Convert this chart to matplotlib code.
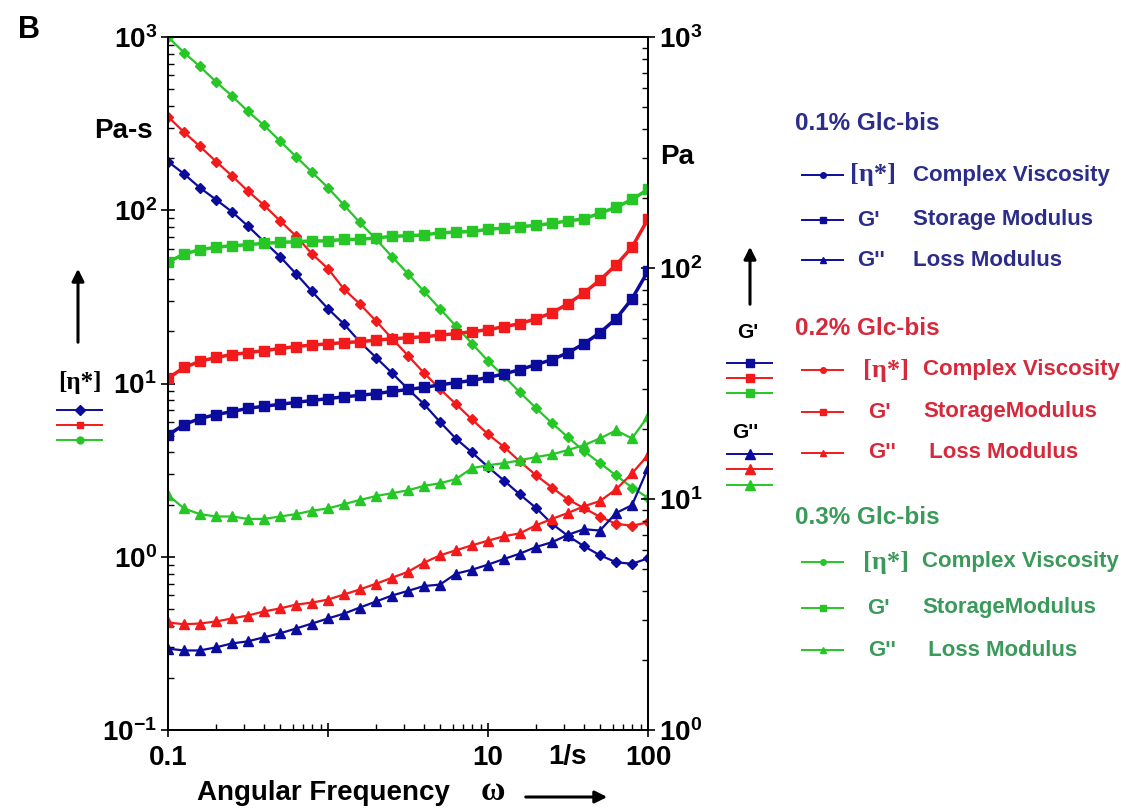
import numpy as np
import matplotlib.pyplot as plt
from matplotlib.lines import Line2D

plt.rcParams['font.family'] = ['Liberation Sans', 'DejaVu Sans']
plt.rcParams['font.weight'] = 'bold'
plt.rcParams['mathtext.fontset'] = 'custom'
plt.rcParams['mathtext.rm'] = 'Liberation Sans:bold'
plt.rcParams['mathtext.bf'] = 'Liberation Sans:bold'
plt.rcParams['mathtext.default'] = 'rm'

# frequency sweep, 1/s
omega = [0.1, 0.126, 0.158, 0.2, 0.251, 0.316, 0.398, 0.501, 0.631, 0.794,
         1.0, 1.26, 1.58, 2.0, 2.51, 3.16, 3.98, 5.01, 6.31, 7.94,
         10.0, 12.6, 15.8, 20.0, 25.1, 31.6, 39.8, 50.1, 63.1, 79.4, 100.0]

# complex viscosity, Pa-s (left axis)
visc_01 = [191, 162, 135, 115, 98, 81, 66, 54, 43, 34,
           27, 22, 17.4, 14.1, 11.5, 9.3, 7.6, 6.0, 4.8, 4.0,
           3.3, 2.75, 2.29, 1.91, 1.55, 1.32, 1.15, 1.02, 0.93, 0.91, 0.98]
visc_02 = [347, 282, 234, 191, 158, 129, 107, 87, 71, 56,
           46, 35, 28.8, 22.9, 18.2, 14.5, 11.5, 9.3, 7.6, 6.2,
           5.1, 4.3, 3.55, 2.95, 2.51, 2.14, 1.91, 1.70, 1.55, 1.51, 1.58]
visc_03 = [1000, 813, 676, 550, 457, 372, 309, 251, 204, 166,
           135, 107, 85, 68, 54, 43, 34, 27, 21.4, 17,
           13.5, 11, 8.9, 7.2, 5.9, 4.9, 4.07, 3.47, 2.95, 2.51, 2.19]

# storage modulus G', Pa (right axis)
gp_01 = [18.9, 21, 22.3, 23.2, 23.9, 24.7, 25.2, 25.7, 26.2, 26.7,
         27.2, 27.7, 28.1, 28.6, 29.2, 29.8, 30.4, 31.2, 31.9, 32.6,
         33.6, 34.8, 36.3, 38.2, 40.1, 43, 47, 52.5, 60.3, 73.5, 97]
gp_02 = [33.3, 37.1, 39.4, 41, 42.2, 43, 43.9, 44.8, 45.7, 46.4,
         47, 47.5, 48, 48.7, 49.4, 49.9, 50.4, 51.2, 52, 53,
         54.1, 55.7, 57.4, 60.3, 64, 70, 78, 88.7, 103, 123, 163]
gp_03 = [106, 115, 120, 123, 125, 126, 128, 129, 130, 131,
         131, 133, 133, 135, 137, 138, 139, 142, 143, 144,
         147, 149, 151, 153, 156, 160, 163, 173, 183, 198, 219]

# loss modulus G'', Pa (right axis)
gpp_01 = [2.25, 2.21, 2.21, 2.28, 2.37, 2.42, 2.52, 2.62, 2.75, 2.89,
          3.04, 3.19, 3.39, 3.6, 3.82, 4.0, 4.2, 4.26, 4.75, 4.94,
          5.2, 5.5, 5.8, 6.2, 6.5, 7.0, 7.4, 7.3, 8.7, 9.4, 13.6]
gpp_02 = [2.92, 2.87, 2.89, 2.95, 3.04, 3.13, 3.26, 3.36, 3.49, 3.56,
          3.67, 3.86, 4.06, 4.3, 4.56, 4.84, 5.3, 5.7, 6.0, 6.3,
          6.6, 6.9, 7.1, 7.7, 8.2, 8.7, 9.3, 9.8, 11.0, 12.9, 15.5]
gpp_03 = [10.4, 9.1, 8.6, 8.4, 8.4, 8.2, 8.2, 8.4, 8.6, 8.9,
          9.1, 9.5, 9.9, 10.3, 10.6, 10.9, 11.4, 11.7, 12.2, 13.6,
          14, 14.3, 14.7, 15.2, 15.6, 16.3, 17.1, 18.3, 19.8, 18.3, 22.8]

BLUE = '#0c0c9c'
RED = '#f21a1a'
GREEN = '#26c626'
TBLUE = '#2c2c8a'
TRED = '#d62a3c'
TGREEN = '#3a9a5a'

W, H = 1134, 810
fig = plt.figure(figsize=(W / 100, H / 100), dpi=100)
ax = fig.add_axes([168 / W, 80 / H, 480 / W, 693 / H])
ax2 = ax.twinx()

for v, c in [(visc_01, BLUE), (visc_02, RED), (visc_03, GREEN)]:
    ax.plot(omega, v, color=c, lw=1.6, marker='D', ms=5, mec=c)
for g, c in [(gp_01, BLUE), (gp_02, RED), (gp_03, GREEN)]:
    ax2.plot(omega, g, color=c, lw=2.5, marker='s', ms=6.5, mec=c)
for g, c in [(gpp_01, BLUE), (gpp_02, RED), (gpp_03, GREEN)]:
    ax2.plot(omega, g, color=c, lw=1.6, marker='^', ms=6.5, mec=c)

ax.set_xscale('log')
ax.set_yscale('log')
ax2.set_yscale('log')
ax.set_xlim(0.1, 100)
ax.set_ylim(0.1, 1000)
ax2.set_ylim(1, 1000)

ax.set_xticks([0.1, 1, 10, 100])
ax.set_xticklabels(['0.1', '', '10', '100'])
ax.set_yticks([0.1, 1, 10, 100, 1000])
ax.set_yticklabels([r'$10^{-1}$', r'$10^{0}$', r'$10^{1}$', r'$10^{2}$', r'$10^{3}$'])
ax2.set_yticks([1, 10, 100, 1000])
ax2.set_yticklabels([r'$10^{0}$', r'$10^{1}$', r'$10^{2}$', r'$10^{3}$'])

ax.tick_params(axis='both', which='major', direction='inout', length=10, width=1.2,
               labelsize=20, pad=3)
ax.tick_params(axis='x', which='major', pad=6)
ax.tick_params(axis='both', which='minor', direction='in', length=4, width=1)
ax2.tick_params(axis='y', which='major', direction='inout', length=10, width=1.2,
                labelsize=20, pad=3)
ax2.tick_params(axis='y', which='minor', direction='in', length=4, width=1)
for a in (ax, ax2):
    for s in a.spines.values():
        s.set_linewidth(1.3)


def ftext(x, y, s, **kw):
    fig.text(x / W, 1 - y / H, s, **kw)


def swatch(x0, x1, y, color, marker, ms):
    xs = [x0 / W, (x0 + x1) / 2 / W, x1 / W]
    ys = [1 - y / H] * 3
    fig.add_artist(Line2D(xs, ys, transform=fig.transFigure, color=color, lw=1.4,
                          marker=marker, ms=ms, markevery=[1], mec=color))


def arrow(x0, y0, x1, y1):
    fig.add_artist(plt.Annotation('', xy=(x1 / W, 1 - y1 / H), xytext=(x0 / W, 1 - y0 / H),
                                  xycoords='figure fraction', textcoords='figure fraction',
                                  arrowprops=dict(arrowstyle='-|>', color='black', lw=2.2,
                                                  mutation_scale=18)))


ftext(18, 30, 'B', fontsize=22, va='center', ha='left')
ftext(153, 131, 'Pa-s', fontsize=20, va='center', ha='right')
ftext(660, 157, 'Pa', fontsize=20, va='center', ha='left')
ftext(568, 757, '1/s', fontsize=20, va='center', ha='center')
ftext(197, 793, 'Angular Frequency', fontsize=20, va='center', ha='left')
ftext(493, 791, 'ω', fontsize=24, va='center', ha='center', family='Liberation Serif')
arrow(523, 797, 610, 797)

# left axis key for the viscosity curves
arrow(78, 345, 78, 266)
ftext(80, 382, '[η*]', fontsize=18, va='center', ha='center', family='Liberation Serif')
for y, c, m in [(410, BLUE, 'D'), (425, RED, 's'), (440, GREEN, 'o')]:
    swatch(57, 102, y, c, m, 5)

# right axis key for the moduli
arrow(750, 307, 750, 244)
ftext(748, 332, "G'", fontsize=15, va='center', ha='center')
for y, c in [(363, BLUE), (378, RED), (393, GREEN)]:
    swatch(727, 772, y, c, 's', 6)
ftext(745, 433, "G''", fontsize=15, va='center', ha='center')
for y, c in [(454, BLUE), (469, RED), (485, GREEN)]:
    swatch(727, 772, y, c, '^', 6.5)

# concentration legends
blocks = [
    ('0.1% Glc-bis', TBLUE, BLUE, 123, [175, 220, 260],
     ['Complex Viscosity', 'Storage Modulus', 'Loss Modulus'], [850, 857, 857], 913),
    ('0.2% Glc-bis', TRED, RED, 328, [370, 412, 453],
     ['Complex Viscosity', 'StorageModulus', ' Loss Modulus'], [863, 868, 868], 923),
    ('0.3% Glc-bis', TGREEN, GREEN, 517, [562, 608, 650],
     ['Complex Viscosity', 'StorageModulus', ' Loss Modulus'], [863, 867, 868], 922),
]
for title, tc, lc, ty, rows, labels, symx, labx in blocks:
    ftext(795, ty, title, fontsize=17.5, color=tc, va='center', ha='left')
    syms = ['[η*]', "G'", "G''"]
    marks = ['o', 's', '^']
    for i, y in enumerate(rows):
        swatch(802, 843, y, lc, marks[i], 4)
        if i == 0:
            ftext(symx[i], y, syms[i], fontsize=19, color=tc, va='center', ha='left',
                  family='Liberation Serif')
        else:
            ftext(symx[i], y, syms[i], fontsize=16, color=tc, va='center', ha='left')
        ftext(labx, y, labels[i], fontsize=16, color=tc, va='center', ha='left')

fig.savefig('out.png', dpi=100)
